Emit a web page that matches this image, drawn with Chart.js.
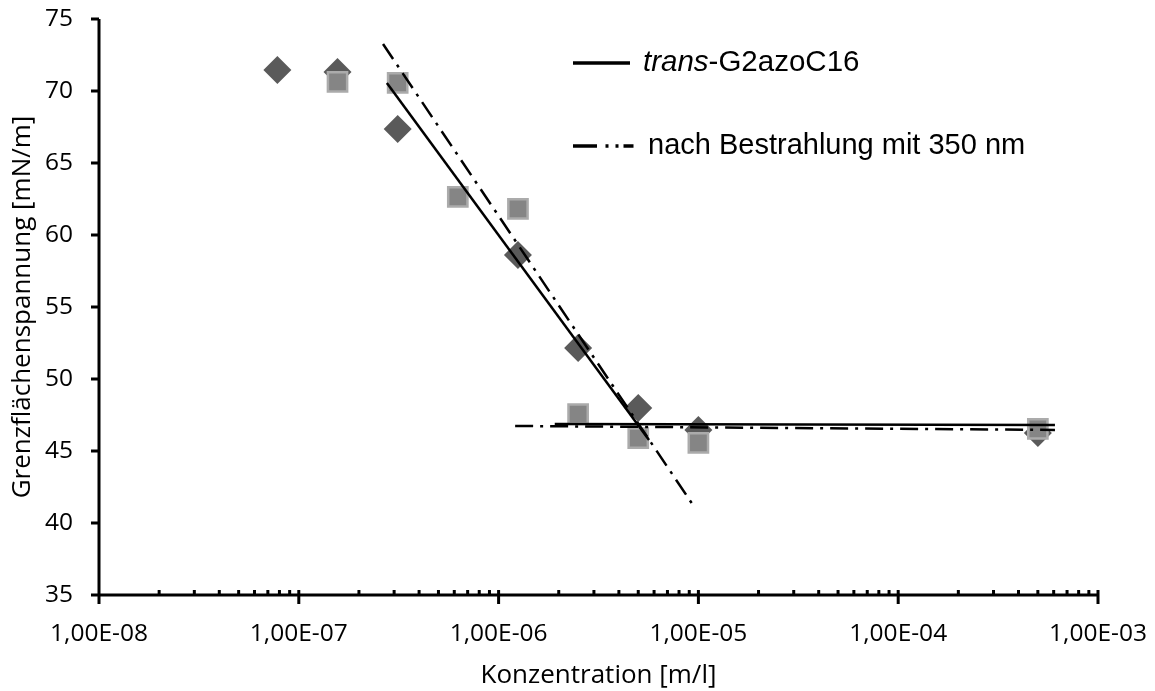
<!DOCTYPE html>
<html>
<head>
<meta charset="utf-8">
<script src="https://cdn.jsdelivr.net/npm/chart.js@4.4.0/dist/chart.umd.min.js"></script>
<style>
  html, body { margin: 0; padding: 0; background: #fff; }
</style>
</head>
<body>
<canvas id="chart" width="1155" height="691"></canvas>
<script>
// Messwerte: Konzentration [m/l] und Grenzflächenspannung [mN/m]
const concDiamond = [7.8125e-8, 1.5625e-7, 3.125e-7, 1.25e-6, 2.5e-6, 5e-6, 1e-5, 5e-4];
const tensionDiamond = [71.46, 71.32, 67.36, 58.61, 52.15, 47.99, 46.46, 46.25];
const concSquare = [1.5625e-7, 3.125e-7, 6.25e-7, 1.25e-6, 2.5e-6, 5e-6, 1e-5, 5e-4];
const tensionSquare = [70.63, 70.56, 62.64, 61.81, 47.57, 45.90, 45.56, 46.53];

// Trendlinien (Anfangs- und Endpunkt)
const transSteepX = [2.76e-7, 5.66e-6];
const transSteepY = [70.56, 45.76];
const transFlatX = [1.91e-6, 6.09e-4];
const transFlatY = [46.88, 46.81];
const irrSteepX = [2.64e-7, 9.62e-6];
const irrSteepY = [73.26, 41.04];
const irrFlatX = [1.21e-6, 6.09e-4];
const irrFlatY = [46.74, 46.46];

// Achsen
const xTickValues = [1e-8, 1e-7, 1e-6, 1e-5, 1e-4, 1e-3];
const yMin = 35, yMax = 75, yStep = 5;

const legendLabels = ['trans', '-G2azoC16', 'nach Bestrahlung mit 350 nm'];

function toPoints(xs, ys) {
  return xs.map((x, i) => ({ x: x, y: ys[i] }));
}

function formatExp(v) {
  const e = Math.round(Math.log10(v));
  return '1,00E' + (e < 0 ? '-' : '+') + String(Math.abs(e)).padStart(2, '0');
}

const tickFont = { family: 'Open Sans', size: 24.5 };
const titleFont = { family: 'Open Sans', size: 26 };
const dashDot = [18, 7, 3, 7];

// Achsenlinien und Teilstriche selbst zeichnen (Excel-Stil)
const axesPlugin = {
  id: 'axesPlugin',
  afterDraw(chart) {
    const ctx = chart.ctx;
    const xs = chart.scales.x, ys = chart.scales.y;
    const a = chart.chartArea;
    ctx.save();
    ctx.strokeStyle = '#000';
    ctx.lineWidth = 3;
    ctx.beginPath();
    ctx.moveTo(a.left, a.top);
    ctx.lineTo(a.left, a.bottom);
    ctx.moveTo(a.left - 1.5, a.bottom);
    ctx.lineTo(a.right + 1.5, a.bottom);
    for (let v = yMin; v <= yMax; v += yStep) {
      const py = ys.getPixelForValue(v);
      ctx.moveTo(a.left - 8, py);
      ctx.lineTo(a.left, py);
    }
    xTickValues.forEach(v => {
      const px = xs.getPixelForValue(v);
      ctx.moveTo(px, a.bottom - 5);
      ctx.lineTo(px, a.bottom + 9);
    });
    for (let i = 0; i < xTickValues.length - 1; i++) {
      for (let k = 2; k <= 9; k++) {
        const px = xs.getPixelForValue(xTickValues[i] * k);
        ctx.moveTo(px, a.bottom - 5);
        ctx.lineTo(px, a.bottom);
      }
    }
    ctx.stroke();

    // Legende
    ctx.lineWidth = 3.5;
    ctx.beginPath();
    ctx.moveTo(573, 63);
    ctx.lineTo(630, 63);
    ctx.stroke();
    ctx.setLineDash([24, 8.5, 3, 7, 3, 5, 10, 40]);
    ctx.beginPath();
    ctx.moveTo(573, 146);
    ctx.lineTo(634, 146);
    ctx.stroke();
    ctx.setLineDash([]);

    ctx.fillStyle = '#000';
    ctx.textBaseline = 'middle';
    ctx.textAlign = 'left';
    ctx.font = 'italic 29.5px "Liberation Sans", Arial, sans-serif';
    ctx.fillText(legendLabels[0], 643, 63);
    const w = ctx.measureText(legendLabels[0]).width;
    ctx.font = '29.5px "Liberation Sans", Arial, sans-serif';
    ctx.fillText(legendLabels[1], 643 + w, 63);
    ctx.font = '29px "Liberation Sans", Arial, sans-serif';
    ctx.fillText(legendLabels[2], 648, 146);
    ctx.restore();
  }
};

const ctx = document.getElementById('chart').getContext('2d');

new Chart(ctx, {
  type: 'scatter',
  data: {
    datasets: [
      {
        label: 'trans-G2azoC16 Trend 1',
        data: toPoints(transSteepX, transSteepY),
        showLine: true, borderColor: '#000', borderWidth: 2.5,
        pointRadius: 0, order: 0
      },
      {
        label: 'trans-G2azoC16 Trend 2',
        data: toPoints(transFlatX, transFlatY),
        showLine: true, borderColor: '#000', borderWidth: 2.5,
        pointRadius: 0, order: 0
      },
      {
        label: 'Bestrahlung Trend 1',
        data: toPoints(irrSteepX, irrSteepY),
        showLine: true, borderColor: '#000', borderWidth: 2.5, borderDash: dashDot,
        pointRadius: 0, order: 0
      },
      {
        label: 'Bestrahlung Trend 2',
        data: toPoints(irrFlatX, irrFlatY),
        showLine: true, borderColor: '#000', borderWidth: 2.5, borderDash: dashDot,
        pointRadius: 0, order: 0
      },
      {
        label: 'nach Bestrahlung',
        data: toPoints(concSquare, tensionSquare),
        pointStyle: 'rect', pointRadius: 13.6, pointHoverRadius: 13.6,
        backgroundColor: '#858585', borderColor: '#ababab', borderWidth: 2.5,
        order: 1
      },
      {
        label: 'trans-G2azoC16',
        data: toPoints(concDiamond, tensionDiamond),
        pointStyle: 'rectRot', pointRadius: 14, pointHoverRadius: 14,
        backgroundColor: '#5a5a5a', borderWidth: 0,
        order: 2
      }
    ]
  },
  options: {
    responsive: false,
    animation: false,
    events: [],
    layout: { padding: { top: 19, right: 57, left: 0, bottom: 0 } },
    plugins: { legend: { display: false }, tooltip: { enabled: false } },
    scales: {
      x: {
        type: 'logarithmic',
        min: 1e-8, max: 1e-3,
        afterBuildTicks: s => { s.ticks = xTickValues.map(v => ({ value: v })); },
        afterFit: s => { s.height = 96; s.paddingLeft = 0; s.paddingRight = 0; },
        grid: { display: true, drawOnChartArea: false, drawTicks: false, color: 'rgba(0,0,0,0)' },
        border: { display: false },
        ticks: {
          font: tickFont, color: '#000', padding: 24, maxRotation: 0, autoSkip: false,
          callback: v => formatExp(v)
        },
        title: {
          display: true, text: 'Konzentration [m/l]',
          font: titleFont, color: '#000', padding: { top: 0, bottom: 0 }
        }
      },
      y: {
        min: yMin, max: yMax,
        afterFit: s => { s.width = 99; s.paddingTop = 0; s.paddingBottom = 0; },
        grid: { display: true, drawOnChartArea: false, drawTicks: false, color: 'rgba(0,0,0,0)' },
        border: { display: false },
        ticks: { stepSize: yStep, font: tickFont, color: '#000', padding: 26 },
        title: {
          display: true, text: 'Grenzflächenspannung [mN/m]',
          font: titleFont, color: '#000', padding: { top: 7, bottom: 0 }
        }
      }
    }
  },
  plugins: [axesPlugin]
});
</script>
</body>
</html>
